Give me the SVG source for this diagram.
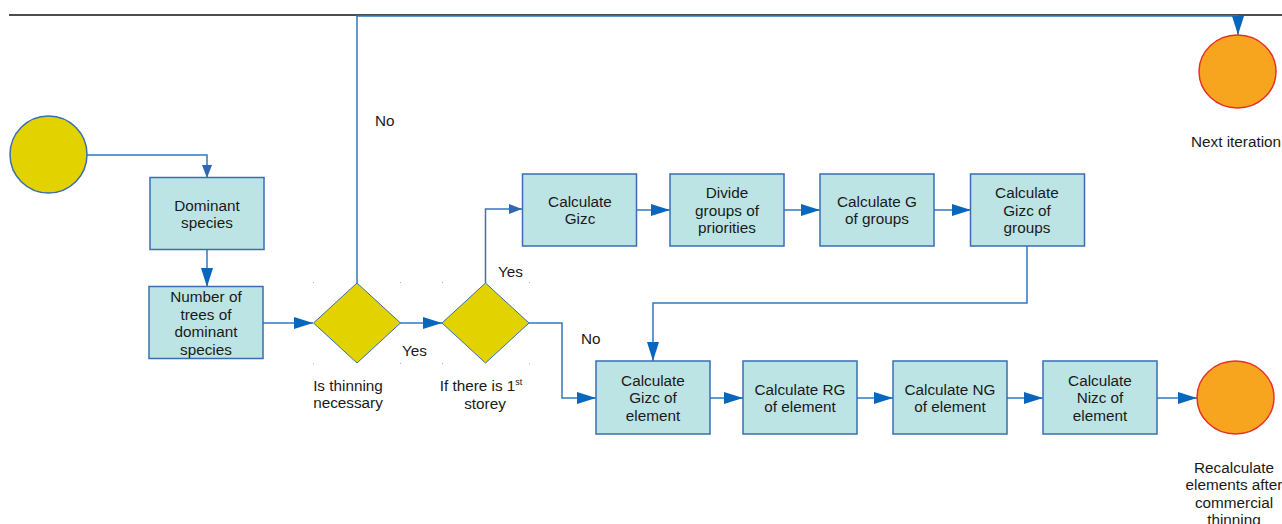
<svg xmlns="http://www.w3.org/2000/svg" width="1282" height="524" viewBox="0 0 1282 524">
<defs>
<style>
.box{fill:#bce4e4;stroke:#3a6eb0;stroke-width:1.5}
.dia{fill:#e2d300;stroke:#3a6eb0;stroke-width:1}
.start{fill:#e2d300;stroke:#3a6eb0;stroke-width:1.5}
.end{fill:#f7a51f;stroke:#e8302a;stroke-width:1.5}
.t{font-family:"Liberation Sans",Arial,sans-serif;font-size:15.3px;fill:#1a1a1a;text-anchor:middle}
.l{font-family:"Liberation Sans",Arial,sans-serif;font-size:15.3px;fill:#1a1a1a}
.c{fill:none;stroke:#2f78c0;stroke-width:1.5}
.dot{fill:#9ab0c8}
</style>
<marker id="a" markerWidth="20" markerHeight="12" refX="19" refY="6" orient="auto" markerUnits="userSpaceOnUse">
<path d="M0,0 L19,6 L0,12 Z" fill="#0866bd"/>
</marker>
<marker id="s" markerWidth="14" markerHeight="10" refX="13" refY="5" orient="auto" markerUnits="userSpaceOnUse">
<path d="M0,0 L13,5 L0,10 Z" fill="#2f68b0"/>
</marker>
</defs>
<line x1="9" y1="15" x2="1282" y2="15" stroke="#111" stroke-width="1.5"/>
<g id="connectors">
<path class="c" d="M87,155 H207 V178" marker-end="url(#s)"/>
<path class="c" d="M207,250 V287" marker-end="url(#a)"/>
<path class="c" d="M263,323 H313" marker-end="url(#a)"/>
<path class="c" d="M400,323 H442" marker-end="url(#a)"/>
<path class="c" d="M357,283 V16 H1238 V35" stroke="#0d5fae" marker-end="url(#a)"/>
<path class="c" d="M485.5,283 V209 H522" marker-end="url(#s)"/>
<path class="c" d="M529,323 H562 V398 H596" marker-end="url(#a)"/>
<path class="c" d="M637,210 H670" marker-end="url(#a)"/>
<path class="c" d="M784,210 H820" marker-end="url(#a)"/>
<path class="c" d="M934,210 H971" marker-end="url(#a)"/>
<path class="c" d="M1027,246 V303 H653 V361" marker-end="url(#a)"/>
<path class="c" d="M710,398 H743" marker-end="url(#a)"/>
<path class="c" d="M857,398 H893" marker-end="url(#a)"/>
<path class="c" d="M1007,398 H1043" marker-end="url(#a)"/>
<path class="c" d="M1157,398 H1197" marker-end="url(#a)"/>
<text class="l" x="375" y="126">No</text>
<text class="l" x="402" y="356">Yes</text>
<text class="l" x="498" y="277">Yes</text>
<text class="l" x="581" y="344">No</text>
</g>
<g id="start"><circle class="start" cx="48.5" cy="154.5" r="38.5"/></g>
<g id="dominant">
<rect class="box" x="150" y="177.5" width="114" height="72"/>
<text class="t" x="207" y="211">Dominant</text>
<text class="t" x="207" y="228">species</text>
</g>
<g id="number">
<rect class="box" x="149" y="286.5" width="114" height="72"/>
<text class="t" x="206" y="302">Number of</text>
<text class="t" x="206" y="320">trees of</text>
<text class="t" x="206" y="337">dominant</text>
<text class="t" x="206" y="355">species</text>
</g>
<g id="thinning">
<rect class="dot" x="313" y="282" width="1" height="1"/><rect class="dot" x="400" y="282" width="1" height="1"/>
<rect class="dot" x="313" y="363" width="1" height="1"/><rect class="dot" x="400" y="363" width="1" height="1"/>
<polygon class="dia" points="357,283 400.5,323 357,363 313.5,323"/>
<text class="t" x="348" y="391">Is thinning</text>
<text class="t" x="348" y="408">necessary</text>
</g>
<g id="storey">
<rect class="dot" x="442" y="282" width="1" height="1"/><rect class="dot" x="529" y="282" width="1" height="1"/>
<rect class="dot" x="442" y="363" width="1" height="1"/><rect class="dot" x="529" y="363" width="1" height="1"/>
<polygon class="dia" points="485.5,283 529,323 485.5,363 442,323"/>
<text class="t" x="481" y="391">If there is 1<tspan font-size="9" dy="-6">st</tspan></text>
<text class="t" x="485" y="409">storey</text>
</g>
<g id="gizc">
<rect class="box" x="522.5" y="174" width="114" height="72"/>
<text class="t" x="580" y="207">Calculate</text>
<text class="t" x="580" y="224">Gizc</text>
</g>
<g id="divide">
<rect class="box" x="670" y="174" width="114" height="72"/>
<text class="t" x="727" y="198">Divide</text>
<text class="t" x="727" y="216">groups of</text>
<text class="t" x="727" y="233">priorities</text>
</g>
<g id="calcg">
<rect class="box" x="820" y="174" width="114" height="72"/>
<text class="t" x="877" y="207">Calculate G</text>
<text class="t" x="877" y="224">of groups</text>
</g>
<g id="gizcgroups">
<rect class="box" x="970.5" y="174" width="114" height="72"/>
<text class="t" x="1027" y="198">Calculate</text>
<text class="t" x="1027" y="216">Gizc of</text>
<text class="t" x="1027" y="233">groups</text>
</g>
<g id="gizcelem">
<rect class="box" x="596" y="361" width="114" height="73"/>
<text class="t" x="653" y="386">Calculate</text>
<text class="t" x="653" y="403">Gizc of</text>
<text class="t" x="653" y="421">element</text>
</g>
<g id="rg">
<rect class="box" x="743" y="361" width="114" height="73"/>
<text class="t" x="800" y="395">Calculate RG</text>
<text class="t" x="800" y="412">of element</text>
</g>
<g id="ng">
<rect class="box" x="893" y="361" width="114" height="73"/>
<text class="t" x="950" y="395">Calculate NG</text>
<text class="t" x="950" y="412">of element</text>
</g>
<g id="nizc">
<rect class="box" x="1043" y="361" width="114" height="73"/>
<text class="t" x="1100" y="386">Calculate</text>
<text class="t" x="1100" y="403">Nizc of</text>
<text class="t" x="1100" y="421">element</text>
</g>
<g id="recalc">
<ellipse class="end" cx="1235.5" cy="397.5" rx="38.5" ry="36.5"/>
<text class="t" x="1234" y="473">Recalculate</text>
<text class="t" x="1234" y="490">elements after</text>
<text class="t" x="1234" y="508">commercial</text>
<text class="t" x="1234" y="525">thinning</text>
</g>
<g id="next">
<ellipse class="end" cx="1237.5" cy="71.5" rx="38.5" ry="36.5"/>
<text class="t" x="1236" y="147">Next iteration</text>
</g>
</svg>
